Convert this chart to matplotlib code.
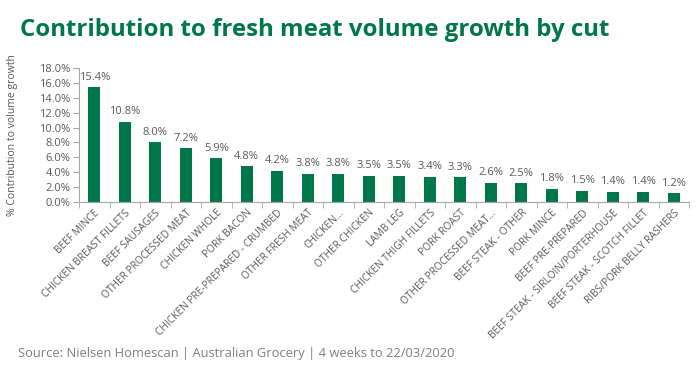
import matplotlib
matplotlib.use("Agg")
import matplotlib.pyplot as plt
import numpy as np

categories = ["BEEF MINCE", "CHICKEN BREAST FILLETS", "BEEF SAUSAGES", "OTHER PROCESSED MEAT",
              "CHICKEN WHOLE", "PORK BACON", "CHICKEN PRE-PREPARED - CRUMBED", "OTHER FRESH MEAT",
              "CHICKEN...", "OTHER CHICKEN", "LAMB LEG", "CHICKEN THIGH FILLETS", "PORK ROAST",
              "OTHER PROCESSED MEAT...", "BEEF STEAK - OTHER", "PORK MINCE", "BEEF PRE-PREPARED",
              "BEEF STEAK - SIRLOIN/PORTERHOUSE", "BEEF STEAK - SCOTCH FILLET", "RIBS/PORK BELLY RASHERS"]
values = [15.4, 10.8, 8.0, 7.2, 5.9, 4.8, 4.2, 3.8, 3.8, 3.5, 3.5, 3.4, 3.3, 2.6, 2.5, 1.8, 1.5, 1.4, 1.4, 1.2]
yticks = [0, 2, 4, 6, 8, 10, 12, 14, 16, 18]

green = "#00774A"
gray_text = "#595959"
plt.rcParams['font.family'] = ['Open Sans', 'DejaVu Sans']

fig = plt.figure(figsize=(7, 3.8), dpi=100)
ax = fig.add_axes([79/700, 1-202/380, 610/700, 134/380])
x = np.arange(len(categories))
ax.bar(x, values, width=0.4, color=green, zorder=2)
for xi, v in zip(x, values):
    ax.text(xi, v + 0.6, f"{v:.1f}%", ha="center", va="bottom", fontsize=8, color=gray_text)

ax.set_xlim(-0.5, len(categories) - 0.5)
ax.set_ylim(0, 18)
ax.set_yticks(yticks)
ax.set_yticklabels([f"{t:.1f}%" for t in yticks], fontsize=8, color=gray_text)
ax.set_xticks(x)
ax.set_xticklabels(categories, rotation=45, ha="right", rotation_mode="anchor",
                   fontsize=7.3, color=gray_text)
ax.tick_params(axis="x", length=0, pad=4)
ax.set_xticks(np.arange(-0.5, len(categories)), minor=True)
ax.tick_params(axis="x", which="minor", length=4, color="#A6A6A6", direction="out")
ax.tick_params(axis="y", length=4, color="#A6A6A6", direction="out", pad=2)
for s in ["top", "right"]:
    ax.spines[s].set_visible(False)
for s in ["left", "bottom"]:
    ax.spines[s].set_color("#A6A6A6")
    ax.spines[s].set_linewidth(0.8)

fig.text(13/700, 1-135/380, "% Contribution to volume growth", rotation=90,
         ha="center", va="center", fontsize=7.5, color=gray_text)
fig.text(20/700, 1-30/380, "Contribution to fresh meat volume growth by cut",
         fontsize=17.3, fontweight="bold", color=green, ha="left", va="center")
fig.text(18/700, 1-353/380, "Source: Nielsen Homescan | Australian Grocery | 4 weeks to 22/03/2020",
         fontsize=9.3, color="#7F7F7F", ha="left", va="center")

fig.savefig("out.png", dpi=100)
